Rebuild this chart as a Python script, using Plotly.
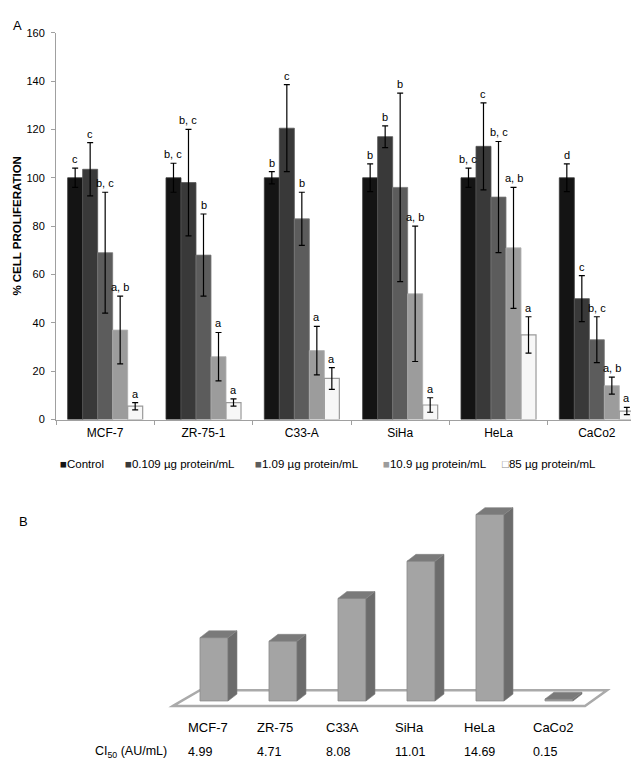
import plotly.graph_objects as go

# ---------------- Data ----------------
cells_a = ["MCF-7", "ZR-75-1", "C33-A", "SiHa", "HeLa", "CaCo2"]
series_names = ["Control", "0.109 µg protein/mL", "1.09 µg protein/mL",
                "10.9 µg protein/mL", "85 µg protein/mL"]

control = [100, 100, 100, 100, 100, 100]
control_err = [4, 6, 2.5, 5.7, 4, 5.7]
dose_0109 = [103.5, 98, 120.5, 117, 113, 50]
dose_0109_err = [11, 22, 18, 4.5, 18, 9.5]
dose_109 = [69, 68, 83, 96, 92, 33]
dose_109_err = [25, 17, 11, 39, 23, 9.5]
dose_109b = [37, 26, 28.5, 52, 71, 14]
dose_109b_err = [14, 10, 10, 28, 25, 3.5]
dose_85 = [5.5, 7, 17, 6, 35, 3.5]
dose_85_err = [1.5, 1.5, 4.5, 3, 7.5, 1.5]

letters_control = ["c", "b, c", "b", "b", "b, c", "d"]
letters_0109 = ["c", "b, c", "c", "b", "c", "c"]
letters_109 = ["b, c", "b", "b", "b", "b, c", "b, c"]
letters_109b = ["a, b", "a", "a", "a, b", "a, b", "a, b"]
letters_85 = ["a", "a", "a", "a", "a", "a"]

cells_b = ["MCF-7", "ZR-75", "C33A", "SiHa", "HeLa", "CaCo2"]
ci50 = [4.99, 4.71, 8.08, 11.01, 14.69, 0.15]
ci50_labels = ["4.99", "4.71", "8.08", "11.01", "14.69", "0.15"]

# ---------------- Styling ----------------
W, H = 639, 762
FONT = "Liberation Sans, Arial, sans-serif"
TXT = "#000000"
fills = ["#141414", "#393939", "#5c5c5c", "#9c9c9c", "#f7f7f7"]
edges = ["#3a3a3a", "#555555", "#777777", "#b0b0b0", "#9a9a9a"]
legend_sq_colors = ["#141414", "#393939", "#5c5c5c", "#9c9c9c", "#8a8a8a"]

def px_x(p):
    return p / W

def px_y(p):
    return 1 - p / H

fig = go.Figure()

values = [control, dose_0109, dose_109, dose_109b, dose_85]
errors = [control_err, dose_0109_err, dose_109_err, dose_109b_err, dose_85_err]
letters = [letters_control, letters_0109, letters_109, letters_109b, letters_85]

BARGAP = 0.237
nser = len(series_names)
bw = (1 - BARGAP) / nser

for j in range(nser):
    fig.add_trace(go.Bar(
        x=cells_a, y=values[j], name=series_names[j],
        marker=dict(color=fills[j], line=dict(color=edges[j], width=1.2 if j == 4 else 0.8)),
        error_y=dict(type="data", array=errors[j], visible=True,
                     color="#000000", thickness=1.2, width=3),
        xaxis="x", yaxis="y", showlegend=False,
    ))

annotations = []
for j in range(nser):
    for i in range(len(cells_a)):
        annotations.append(dict(
            x=i + (j - (nser - 1) / 2) * bw, y=values[j][i] + errors[j][i],
            xref="x", yref="y", text=letters[j][i], showarrow=False,
            yanchor="bottom", xanchor="center", yshift=1,
            font=dict(family=FONT, size=11, color=TXT),
        ))

# Panel labels & y-title
annotations.append(dict(x=px_x(3), y=px_y(2), xref="paper", yref="paper", text="A",
                        showarrow=False, xanchor="left", yanchor="top",
                        font=dict(family=FONT, size=13, color=TXT)))
annotations.append(dict(x=px_x(9), y=px_y(506), xref="paper", yref="paper", text="B",
                        showarrow=False, xanchor="left", yanchor="top",
                        font=dict(family=FONT, size=13, color=TXT)))
annotations.append(dict(x=px_x(9), y=px_y(215), xref="paper", yref="paper",
                        text="<b>% CELL PROLIFERATION</b>", textangle=-90,
                        showarrow=False, xanchor="center", yanchor="middle",
                        font=dict(family=FONT, size=11.5, color=TXT)))

# Custom legend row
legend_x = [50, 115, 245, 373, 492]
for j in range(nser):
    sq = "□" if j == 4 else "■"
    annotations.append(dict(
        x=px_x(legend_x[j]), y=px_y(457), xref="paper", yref="paper",
        text=f"<span style='color:{legend_sq_colors[j]}'>{sq}</span>{series_names[j]}",
        showarrow=False, xanchor="left", yanchor="middle",
        font=dict(family=FONT, size=11.5, color=TXT),
    ))

# ---------------- Panel B ----------------
fig.add_trace(go.Bar(
    x=list(range(len(cells_b))), y=ci50, width=0.406,
    marker=dict(color="#a4a4a4", line=dict(color="#8c8c8c", width=0.8)),
    xaxis="x2", yaxis="y2", showlegend=False,
))

DX, DY = 0.13, 0.54  # 3-D depth offsets (category units, value units)
shapes = []
# floor plane
shapes.append(dict(type="path", xref="x2", yref="y2", layer="below",
                   path="M -0.594,-0.39 L -0.203,0.85 L 5.696,0.85 L 5.377,-0.39 Z",
                   line=dict(color="#aaaaaa", width=2.5), fillcolor="rgba(255,255,255,0)"))
hw = 0.203
for i, v in enumerate(ci50):
    r = i + hw
    l = i - hw
    side = f"M {r},0 L {r+DX},{DY} L {r+DX},{v+DY} L {r},{v} Z"
    top = f"M {l},{v} L {l+DX},{v+DY} L {r+DX},{v+DY} L {r},{v} Z"
    shapes.append(dict(type="path", xref="x2", yref="y2", layer="above", path=side,
                       fillcolor="#6c6c6c", line=dict(color="#7a7a7a", width=0.6)))
    shapes.append(dict(type="path", xref="x2", yref="y2", layer="above", path=top,
                       fillcolor="#7a7a7a", line=dict(color="#858585", width=0.6)))

for i in range(len(cells_b)):
    annotations.append(dict(x=i - 0.40, y=px_y(725), xref="x2", yref="paper",
                            text=cells_b[i], showarrow=False, xanchor="left", yanchor="middle",
                            font=dict(family=FONT, size=13, color=TXT)))
    annotations.append(dict(x=i - 0.40, y=px_y(750), xref="x2", yref="paper",
                            text=ci50_labels[i], showarrow=False, xanchor="left", yanchor="middle",
                            font=dict(family=FONT, size=12.5, color=TXT)))
annotations.append(dict(x=px_x(85), y=px_y(750), xref="paper", yref="paper",
                        text="CI<sub>50</sub> (AU/mL)", showarrow=False,
                        xanchor="left", yanchor="middle",
                        font=dict(family=FONT, size=12.5, color=TXT)))

fig.update_layout(
    width=W, height=H,
    margin=dict(l=0, r=0, t=0, b=0),
    paper_bgcolor="white", plot_bgcolor="rgba(0,0,0,0)",
    barmode="group", bargap=BARGAP, bargroupgap=0,
    showlegend=False,
    font=dict(family=FONT, color=TXT),
    xaxis=dict(domain=[px_x(48), px_x(638)], type="category", anchor="y",
               showline=True, linecolor="#a0a0a0", linewidth=1,
               ticks="outside", tickson="boundaries", ticklen=4, tickcolor="#a0a0a0",
               tickfont=dict(family=FONT, size=12, color=TXT),
               ticklabelstandoff=2, showgrid=False, zeroline=False, fixedrange=True),
    yaxis=dict(domain=[px_y(412), px_y(19)], range=[0, 160], dtick=20, anchor="x",
               showline=True, linecolor="#a0a0a0", linewidth=1,
               ticks="outside", ticklen=4, tickcolor="#a0a0a0",
               tickfont=dict(family=FONT, size=11, color=TXT),
               ticklabelstandoff=4, showgrid=False, zeroline=False),
    xaxis2=dict(domain=[px_x(154.25), px_x(602.75)], range=[-0.75, 5.75], anchor="y2",
                visible=False, showgrid=False, zeroline=False),
    yaxis2=dict(domain=[px_y(705.7), px_y(491.6)], range=[-0.6, 16], anchor="x2",
                visible=False, showgrid=False, zeroline=False),
    annotations=annotations,
    shapes=shapes,
)

fig.write_html("out.html")
